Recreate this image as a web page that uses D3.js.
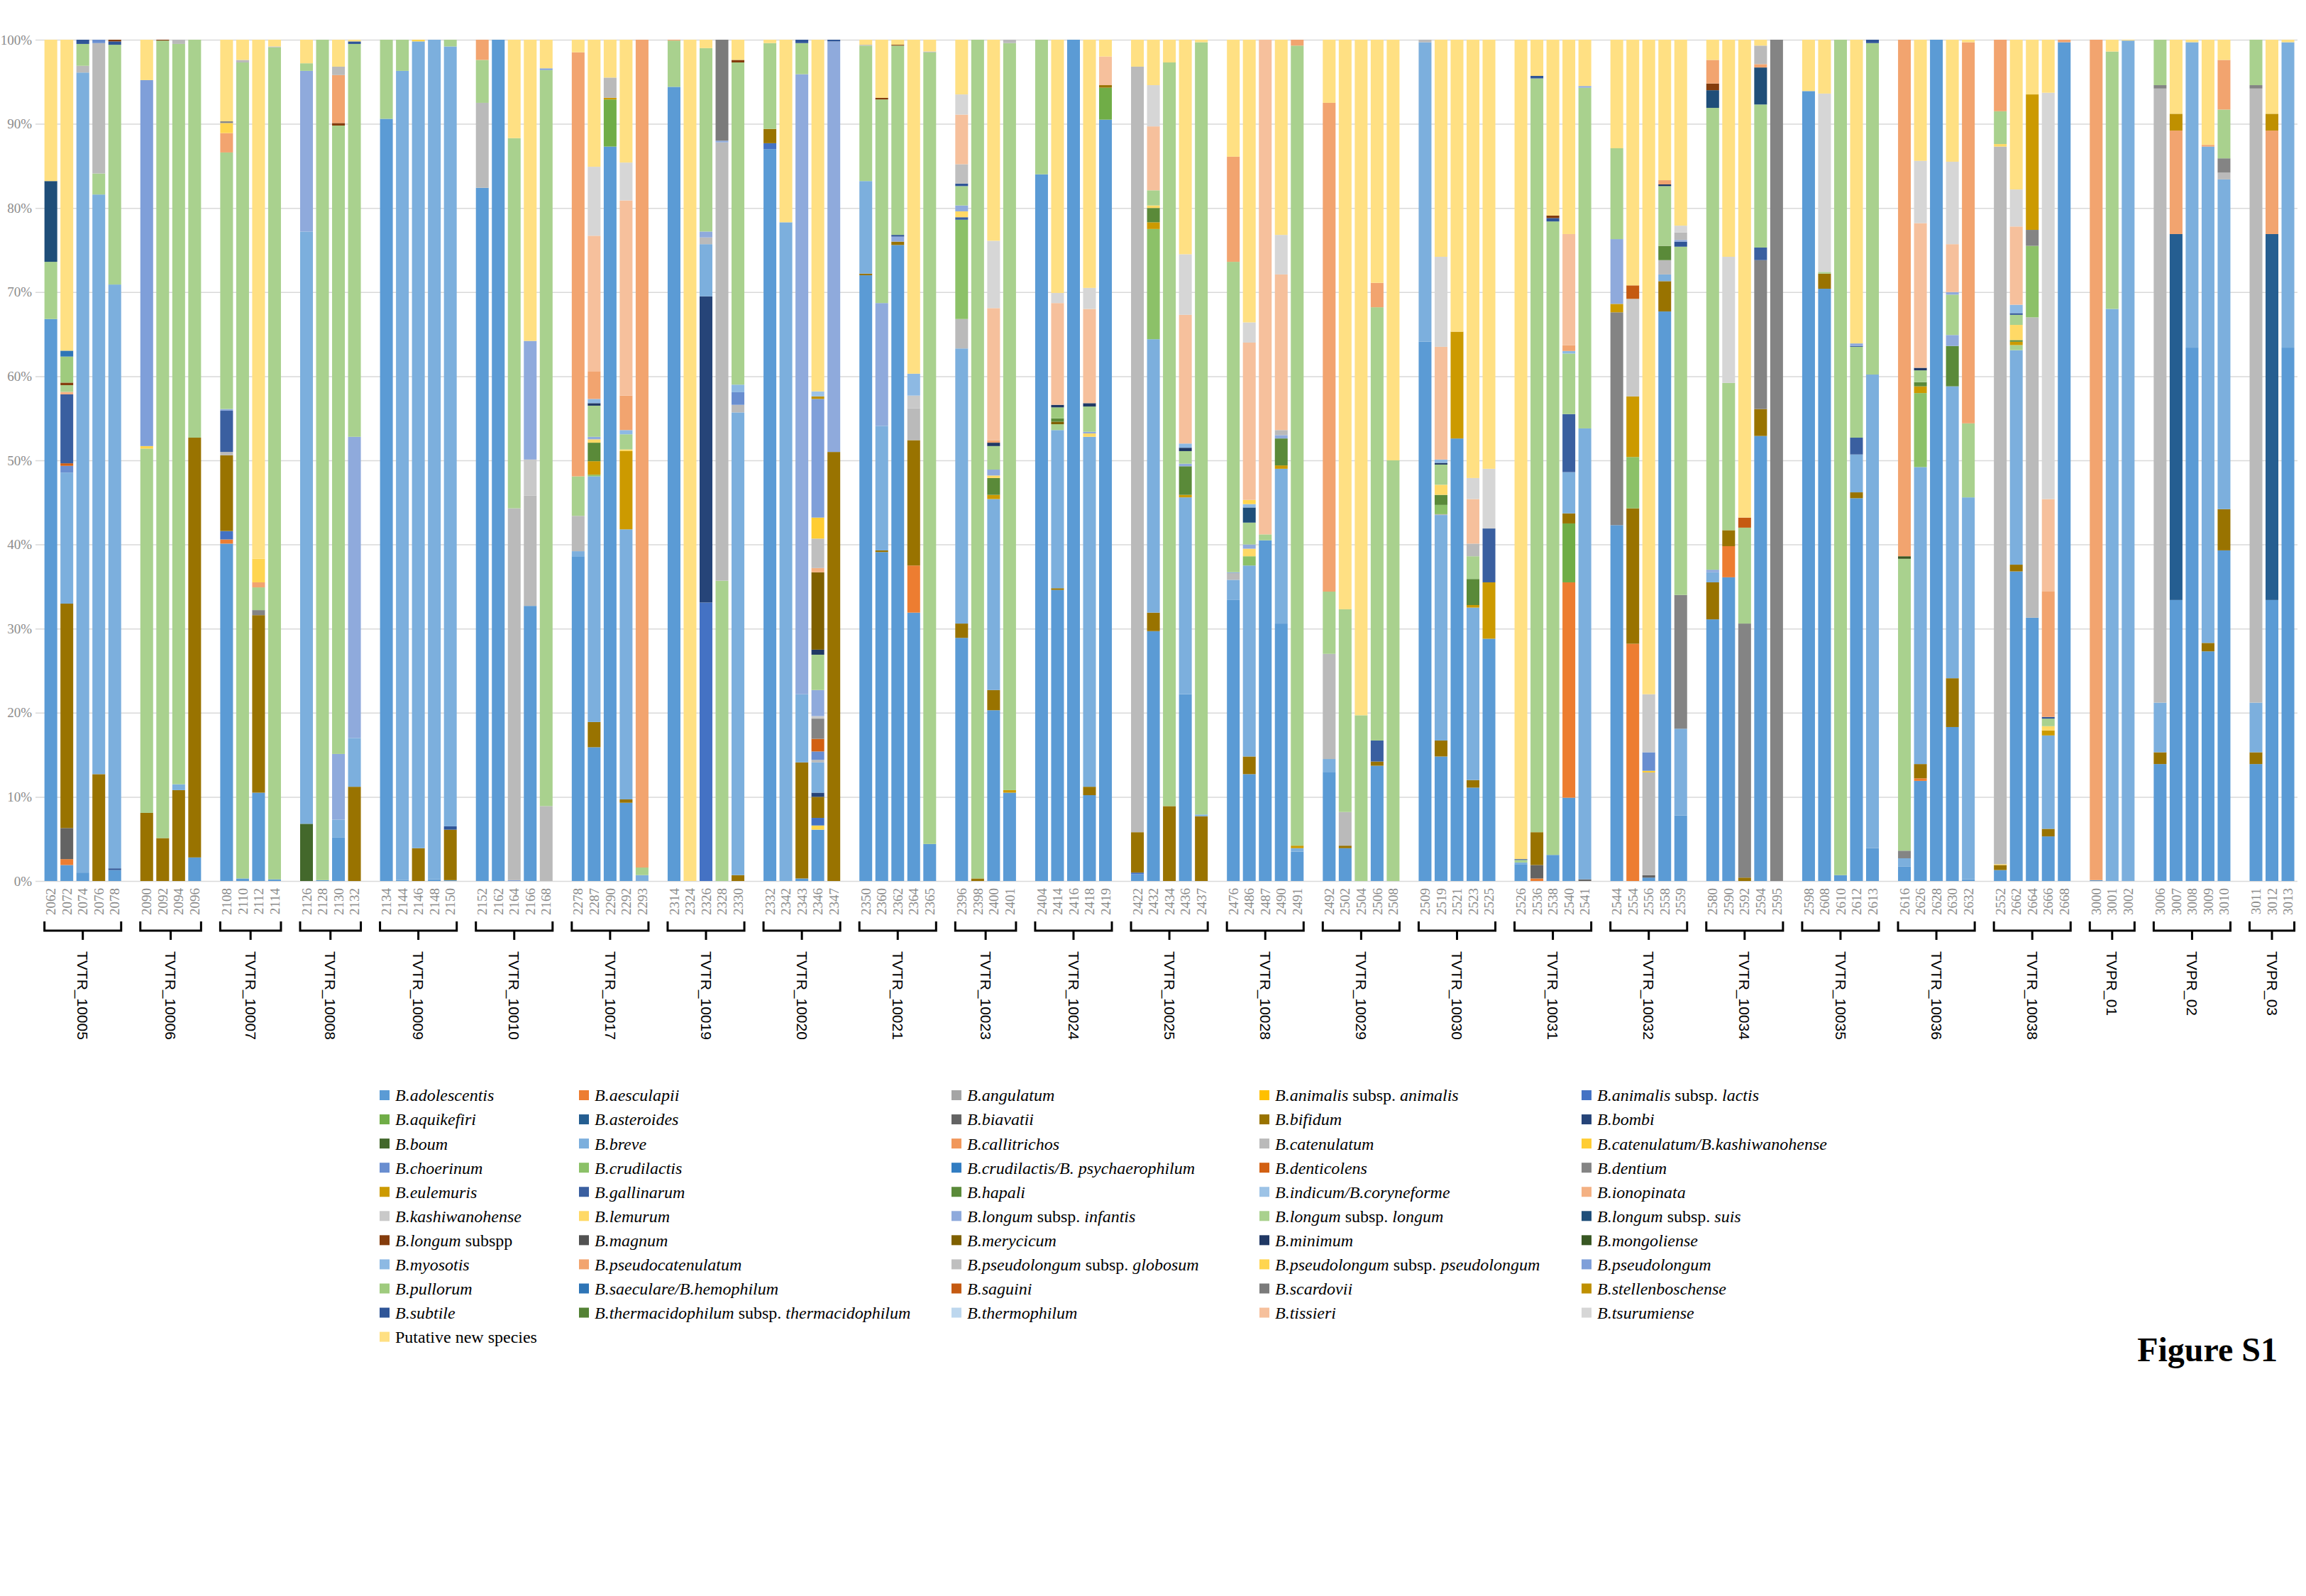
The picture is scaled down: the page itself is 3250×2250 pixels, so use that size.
<!DOCTYPE html>
<html>
<head>
<meta charset="utf-8">
<script src="https://cdn.jsdelivr.net/npm/d3@7"></script>
<style>
  body { margin: 0; background: #fff; }
  svg { display: block; }
</style>
</head>
<body>
<svg id="chart" width="3250" height="2250"></svg>
<script>
// groups (subjects) and the samples inside each one
var groupNames = ["TVTR_10005", "TVTR_10006", "TVTR_10007", "TVTR_10008", "TVTR_10009",
  "TVTR_10010", "TVTR_10017", "TVTR_10019", "TVTR_10020", "TVTR_10021", "TVTR_10023",
  "TVTR_10024", "TVTR_10025", "TVTR_10028", "TVTR_10029", "TVTR_10030", "TVTR_10031",
  "TVTR_10032", "TVTR_10034", "TVTR_10035", "TVTR_10036", "TVTR_10038", "TVPR_01",
  "TVPR_02", "TVPR_03"];

var sampleLabels = [
  ["2062", "2072", "2074", "2076", "2078"],
  ["2090", "2092", "2094", "2096"],
  ["2108", "2110", "2112", "2114"],
  ["2126", "2128", "2130", "2132"],
  ["2134", "2144", "2146", "2148", "2150"],
  ["2152", "2162", "2164", "2166", "2168"],
  ["2278", "2287", "2290", "2292", "2293"],
  ["2314", "2324", "2326", "2328", "2330"],
  ["2332", "2342", "2343", "2346", "2347"],
  ["2350", "2360", "2362", "2364", "2365"],
  ["2396", "2398", "2400", "2401"],
  ["2404", "2414", "2416", "2418", "2419"],
  ["2422", "2432", "2434", "2436", "2437"],
  ["2476", "2486", "2487", "2490", "2491"],
  ["2492", "2502", "2504", "2506", "2508"],
  ["2509", "2519", "2521", "2523", "2525"],
  ["2526", "2536", "2538", "2540", "2541"],
  ["2544", "2554", "2556", "2558", "2559"],
  ["2580", "2590", "2592", "2594", "2595"],
  ["2598", "2608", "2610", "2612", "2613"],
  ["2616", "2626", "2628", "2630", "2632"],
  ["2552", "2662", "2664", "2666", "2668"],
  ["3000", "3001", "3002"],
  ["3006", "3007", "3008", "3009", "3010"],
  ["3011", "3012", "3013"]
];

// species, in legend / stacking order
var speciesCodes = ["ado", "aes", "ang", "ani", "lac", "aqu", "ast", "bia", "bif", "bom",
  "bou", "bre", "cal", "cat", "cka", "cho", "cru", "cps", "den", "dnt",
  "eul", "gal", "hap", "ind", "ion", "kas", "lem", "inf", "lon", "sui",
  "lsp", "mag", "mer", "min", "mon", "myo", "pca", "glo", "pps", "pse",
  "pul", "sae", "sag", "sca", "ste", "sub", "the", "thm", "tis", "tsu", "put"];

var speciesNames = ["B.adolescentis", "B.aesculapii", "B.angulatum", "B.animalis subsp. animalis",
  "B.animalis subsp. lactis", "B.aquikefiri", "B.asteroides", "B.biavatii", "B.bifidum", "B.bombi",
  "B.boum", "B.breve", "B.callitrichos", "B.catenulatum", "B.catenulatum/B.kashiwanohense",
  "B.choerinum", "B.crudilactis", "B.crudilactis/B. psychaerophilum", "B.denticolens", "B.dentium",
  "B.eulemuris", "B.gallinarum", "B.hapali", "B.indicum/B.coryneforme", "B.ionopinata",
  "B.kashiwanohense", "B.lemurum", "B.longum subsp. infantis", "B.longum subsp. longum",
  "B.longum subsp. suis", "B.longum subspp", "B.magnum", "B.merycicum", "B.minimum",
  "B.mongoliense", "B.myosotis", "B.pseudocatenulatum", "B.pseudolongum subsp. globosum",
  "B.pseudolongum subsp. pseudolongum", "B.pseudolongum", "B.pullorum", "B.saeculare/B.hemophilum",
  "B.saguini", "B.scardovii", "B.stellenboschense", "B.subtile",
  "B.thermacidophilum subsp. thermacidophilum", "B.thermophilum", "B.tissieri", "B.tsurumiense",
  "Putative new species"];

var speciesColors = ["#5B9BD5", "#ED7D31", "#A5A5A5", "#FFC000", "#4472C4", "#70AD47", "#255E91",
  "#636363", "#997300", "#264478", "#43682B", "#7CAFDD", "#F1975A", "#BABABA", "#FFCD33",
  "#698ED0", "#8CC168", "#327DC2", "#D26012", "#848484", "#CC9A00", "#3A5FA0", "#5A8A39",
  "#9DC3E6", "#F4B183", "#C9C9C9", "#FFD966", "#8FAADC", "#A9D18E", "#1F4E79", "#843C0C",
  "#525252", "#7F6000", "#203864", "#385723", "#8DB9E3", "#F2A46F", "#BFBFBF", "#FFD54F",
  "#7F9FD9", "#9FCB7E", "#2E75B6", "#C55A11", "#7B7B7B", "#BF9000", "#2F5597", "#548235",
  "#BDD7EE", "#F6C09C", "#D6D6D6", "#FFE083"];

var yTicks = [0, 10, 20, 30, 40, 50, 60, 70, 80, 90, 100];

// relative abundance (%) per sample, bottom to top, as species/value pairs
var segments = [
  // TVTR_10005
  ["ado", 66.8, "lon", 6.8, "sui", 9.6, "put", 16.8],
  ["ado", 1.9, "aes", 0.7, "bia", 3.7, "bif", 26.7, "bre", 15.6, "cho", 0.8, "den", 0.3, "gal", 8.2, "ion", 0.3, "lon", 0.8, "lsp", 0.3, "pul", 3.1, "sae", 0.7, "put", 37.0],
  ["ado", 1.0, "bre", 95.1, "cat", 0.8, "lon", 2.6, "sub", 0.5],
  ["bif", 12.7, "bre", 68.9, "lon", 2.5, "cat", 15.5, "cho", 0.4],
  ["ado", 1.3, "sub", 0.2, "bre", 69.4, "lon", 28.5, "sub", 0.4, "lsp", 0.2],
  // TVTR_10006
  ["bif", 8.1, "lon", 43.3, "pps", 0.3, "pse", 43.5, "put", 4.8],
  ["bif", 5.1, "lon", 94.8, "lsp", 0.1],
  ["bif", 10.8, "bre", 0.7, "lon", 88.0, "cat", 0.5],
  ["ado", 2.8, "bif", 49.9, "lon", 47.3],
  // TVTR_10007
  ["ado", 40.1, "aes", 0.5, "lac", 1.0, "bif", 9.0, "cat", 0.4, "gal", 4.9, "inf", 0.2, "lon", 30.5, "pca", 2.3, "pps", 1.2, "dnt", 0.2, "put", 9.7],
  ["ado", 0.3, "lon", 97.0, "cat", 0.3, "put", 2.4],
  ["ado", 10.5, "bif", 21.1, "dnt", 0.6, "lon", 2.7, "pca", 0.6, "pps", 2.8, "put", 61.7],
  ["ado", 0.2, "lon", 98.9, "cat", 0.1, "put", 0.8],
  // TVTR_10008
  ["bou", 6.8, "bre", 70.4, "inf", 19.1, "lon", 0.9, "put", 2.8],
  ["ado", 0.1, "lon", 99.9],
  ["ado", 5.2, "bre", 2.1, "inf", 7.8, "lon", 74.7, "lsp", 0.3, "pca", 5.7, "cat", 1.0, "put", 3.2],
  ["bif", 11.2, "bre", 5.8, "inf", 35.8, "lon", 46.7, "sub", 0.3, "put", 0.2],
  // TVTR_10009
  ["ado", 90.6, "lon", 9.4],
  ["ado", 0.1, "bre", 96.2, "lon", 3.7],
  ["bif", 3.9, "bre", 95.9, "pps", 0.2],
  ["ado", 0.2, "bre", 99.8],
  ["ado", 0.1, "bif", 6.0, "sub", 0.4, "bre", 92.7, "lon", 0.8],
  // TVTR_10010
  ["ado", 82.4, "cat", 10.1, "lon", 5.1, "pca", 2.4],
  ["ado", 100],
  ["pse", 0.1, "cat", 44.2, "lon", 44.0, "put", 11.7],
  ["ado", 32.7, "cat", 13.1, "kas", 4.3, "inf", 14.1, "put", 35.8],
  ["cat", 8.9, "lon", 87.5, "pse", 0.2, "put", 3.4],
  // TVTR_10017
  ["ado", 38.6, "bre", 0.6, "cat", 4.2, "lon", 4.7, "pca", 50.4, "put", 1.5],
  ["ado", 15.9, "bif", 3.0, "bre", 29.2, "cru", 0.2, "eul", 1.6, "hap", 2.2, "lem", 0.4, "inf", 0.3, "lon", 3.7, "min", 0.3, "myo", 0.5, "pca", 3.3, "tis", 16.1, "tsu", 8.2, "put", 15.1],
  ["ado", 87.3, "aqu", 5.6, "eul", 0.2, "cat", 2.4, "put", 4.5],
  ["ado", 9.3, "bif", 0.4, "bre", 32.1, "eul", 9.3, "lem", 0.2, "lon", 1.8, "myo", 0.5, "pca", 4.1, "tis", 23.2, "tsu", 4.5, "put", 14.6],
  ["bre", 0.7, "lon", 0.9, "pca", 98.4],
  // TVTR_10019
  ["ado", 94.4, "lon", 5.5, "pca", 0.1],
  ["put", 100],
  ["lac", 33.1, "bom", 36.4, "bre", 6.2, "cat", 0.8, "inf", 0.7, "lon", 21.8, "put", 1.0],
  ["lon", 35.7, "cat", 52.1, "inf", 0.2, "sca", 12.0],
  ["bif", 0.7, "bre", 55.0, "cat", 0.9, "cho", 1.5, "myo", 0.9, "lon", 38.3, "lsp", 0.3, "put", 2.4],
  // TVTR_10020
  ["ado", 87.0, "lac", 0.7, "bif", 1.7, "lon", 10.2, "put", 0.4],
  ["bre", 78.3, "put", 21.7],
  ["ado", 0.3, "bif", 13.8, "bre", 8.1, "inf", 73.7, "lon", 3.7, "sub", 0.4],
  ["ado", 6.1, "pps", 0.5, "lac", 0.9, "bif", 2.5, "bom", 0.5, "bre", 3.6, "cat", 0.3, "cho", 1.0, "den", 1.5, "dnt", 2.4, "kas", 0.3, "inf", 3.1, "lon", 4.2, "min", 0.6, "mer", 9.2, "ion", 0.5, "glo", 3.5, "cka", 2.5, "pse", 14.1, "ste", 0.3, "ind", 0.6, "put", 41.8],
  ["bif", 51.0, "inf", 48.8, "sub", 0.2],
  // TVTR_10021
  ["ado", 72.0, "bif", 0.2, "bre", 11.0, "lon", 16.1, "cat", 0.1, "put", 0.6],
  ["ado", 39.1, "bif", 0.2, "bre", 14.8, "inf", 14.6, "lon", 24.2, "lsp", 0.2, "put", 6.9],
  ["ado", 75.6, "bif", 0.4, "inf", 0.6, "sub", 0.2, "lon", 22.5, "lsp", 0.1, "put", 0.6],
  ["ado", 31.9, "aes", 5.6, "bif", 14.9, "cat", 3.8, "kas", 1.5, "myo", 2.6, "put", 39.7],
  ["ado", 4.4, "lon", 94.1, "cat", 0.1, "put", 1.4],
  // TVTR_10023
  ["ado", 28.9, "bif", 1.7, "bre", 32.7, "cat", 3.5, "cru", 11.8, "gal", 0.3, "lem", 0.7, "inf", 0.7, "lon", 2.3, "sub", 0.3, "glo", 2.3, "tis", 5.9, "tsu", 2.4, "put", 6.5],
  ["bif", 0.3, "lon", 99.7],
  ["ado", 20.3, "bif", 2.4, "bre", 22.7, "eul", 0.5, "hap", 2.0, "lem", 0.3, "inf", 0.7, "lon", 2.8, "min", 0.4, "pca", 0.3, "tis", 15.7, "tsu", 8.0, "put", 23.9],
  ["ado", 10.5, "eul", 0.3, "lon", 88.8, "cat", 0.4],
  // TVTR_10024
  ["ado", 84.0, "lon", 16.0],
  ["ado", 34.6, "bif", 0.2, "bre", 18.8, "lon", 0.7, "mer", 0.3, "hap", 0.4, "pul", 1.3, "min", 0.3, "tis", 12.1, "tsu", 1.2, "put", 30.1],
  ["ado", 100],
  ["ado", 10.2, "bif", 1.0, "bre", 41.6, "lem", 0.4, "inf", 0.2, "lon", 3.0, "min", 0.4, "tis", 11.2, "tsu", 2.5, "put", 29.5],
  ["ado", 90.5, "aqu", 3.8, "bif", 0.3, "tis", 3.4, "put", 2.0],
  // TVTR_10025
  ["ado", 0.8, "lac", 0.2, "bif", 4.8, "cat", 91.0, "put", 3.2],
  ["ado", 29.7, "bif", 2.2, "bre", 32.5, "cru", 13.1, "eul", 0.8, "hap", 1.7, "lem", 0.3, "lon", 1.8, "tis", 7.6, "tsu", 4.9, "put", 5.4],
  ["bif", 8.9, "lon", 88.4, "put", 2.7],
  ["ado", 22.2, "bre", 23.4, "eul", 0.3, "hap", 3.4, "inf", 0.3, "lon", 1.5, "min", 0.4, "myo", 0.5, "tis", 15.3, "tsu", 7.2, "put", 25.5],
  ["bif", 7.7, "bre", 0.2, "lon", 91.8, "put", 0.3],
  // TVTR_10028
  ["ado", 33.4, "bre", 2.4, "cat", 0.8, "inf", 0.1, "lon", 36.9, "pca", 12.5, "put", 13.9],
  ["ado", 12.7, "bif", 2.1, "bre", 22.7, "cru", 1.1, "lem", 0.9, "inf", 0.5, "lon", 2.6, "sui", 1.8, "myo", 0.4, "pps", 0.5, "tis", 18.7, "tsu", 2.4, "put", 33.6],
  ["ado", 40.5, "lon", 0.7, "tis", 58.8],
  ["ado", 30.6, "bre", 18.4, "eul", 0.4, "hap", 3.2, "inf", 0.4, "cat", 0.6, "tis", 18.5, "tsu", 4.7, "put", 23.2],
  ["ado", 3.5, "bre", 0.4, "eul", 0.3, "lon", 95.1, "pca", 0.7],
  // TVTR_10029
  ["ado", 12.9, "bre", 1.6, "cat", 12.5, "lon", 7.4, "pca", 58.1, "put", 7.5],
  ["ado", 3.9, "bif", 0.3, "cat", 4.0, "lon", 24.1, "put", 67.7],
  ["lon", 19.7, "put", 80.3],
  ["ado", 13.7, "bif", 0.5, "gal", 2.5, "lon", 51.5, "pca", 2.9, "put", 28.9],
  ["lon", 50.0, "put", 50.0],
  // TVTR_10030
  ["ado", 64.1, "bre", 35.6, "cat", 0.3],
  ["ado", 14.8, "bif", 1.9, "bre", 26.8, "cat", 0.1, "cru", 1.1, "hap", 1.2, "lem", 1.2, "lon", 2.4, "min", 0.2, "myo", 0.4, "tis", 13.4, "tsu", 10.7, "put", 25.8],
  ["ado", 52.6, "eul", 12.7, "put", 34.7],
  ["ado", 11.1, "bif", 0.9, "bre", 20.5, "eul", 0.3, "hap", 3.1, "lon", 2.7, "cat", 1.5, "tis", 5.3, "tsu", 2.5, "put", 52.1],
  ["ado", 28.8, "eul", 6.7, "gal", 6.4, "tsu", 7.1, "put", 51.0],
  // TVTR_10031
  ["ado", 2.0, "bre", 0.2, "lon", 0.3, "sub", 0.1, "put", 97.4],
  ["aes", 0.3, "bia", 1.6, "bif", 3.9, "lon", 89.6, "sub", 0.3, "put", 4.3],
  ["ado", 3.1, "lon", 75.3, "sub", 0.4, "lsp", 0.3, "put", 20.9],
  ["ado", 9.9, "aes", 25.6, "aqu", 7.0, "bif", 1.2, "bre", 4.9, "gal", 6.9, "lon", 7.2, "myo", 0.3, "pca", 0.7, "tis", 13.2, "put", 23.1],
  ["bia", 0.2, "bre", 53.6, "lon", 40.5, "inf", 0.2, "put", 5.5],
  // TVTR_10032
  ["ado", 42.3, "dnt", 25.3, "eul", 1.0, "inf", 7.7, "lon", 10.8, "put", 12.9],
  ["aes", 28.2, "bif", 16.1, "cru", 6.1, "eul", 7.2, "kas", 11.6, "sag", 1.6, "put", 29.2],
  ["ado", 0.4, "bia", 0.3, "cat", 12.2, "cka", 0.2, "cho", 2.2, "kas", 6.9, "put", 77.8],
  ["ado", 67.7, "bif", 3.6, "bre", 0.8, "cat", 1.7, "hap", 1.7, "lon", 7.1, "min", 0.2, "pca", 0.5, "put", 16.7],
  ["ado", 7.8, "bre", 10.3, "dnt", 15.9, "lon", 41.4, "sub", 0.6, "inf", 0.2, "cat", 0.9, "tsu", 0.8, "put", 22.1],
  // TVTR_10034
  ["ado", 31.1, "bif", 4.4, "bre", 1.2, "inf", 0.3, "lon", 54.9, "sui", 2.1, "lsp", 0.8, "pca", 2.8, "put", 2.4],
  ["ado", 36.1, "aes", 3.7, "bif", 1.9, "lon", 17.5, "tsu", 15.0, "put", 25.8],
  ["bif", 0.4, "dnt", 30.2, "lon", 11.4, "sag", 1.2, "put", 56.8],
  ["ado", 52.9, "bif", 3.2, "dnt", 17.7, "gal", 1.5, "lon", 17.0, "sui", 4.4, "pca", 0.4, "cat", 2.2, "put", 0.7],
  ["dnt", 100],
  // TVTR_10035
  ["ado", 93.9, "put", 6.1],
  ["ado", 70.4, "bif", 1.8, "lon", 0.2, "tsu", 21.2, "put", 6.4],
  ["ado", 0.7, "lon", 99.3],
  ["ado", 45.5, "bif", 0.7, "bre", 4.5, "gal", 2.0, "lon", 10.8, "sub", 0.1, "inf", 0.3, "put", 36.1],
  ["ado", 3.9, "bre", 56.3, "lon", 39.4, "sub", 0.4],
  // TVTR_10036
  ["ado", 1.7, "bre", 1.0, "dnt", 0.9, "lon", 34.7, "mon", 0.3, "pca", 61.4],
  ["ado", 11.9, "aes", 0.3, "bif", 1.7, "bre", 35.3, "cru", 8.8, "eul", 0.8, "hap", 0.5, "lon", 1.4, "min", 0.3, "tis", 17.2, "tsu", 7.4, "put", 14.4],
  ["ado", 100],
  ["ado", 18.3, "bif", 5.8, "bre", 34.7, "hap", 4.8, "inf", 1.3, "lon", 4.8, "inf", 0.3, "tis", 5.7, "tsu", 9.8, "put", 14.5],
  ["ado", 0.2, "bre", 45.4, "lon", 8.8, "pca", 45.3, "put", 0.3],
  // TVTR_10038
  ["ado", 1.3, "bif", 0.6, "lem", 0.1, "cat", 85.3, "lem", 0.3, "lon", 3.9, "pca", 8.5],
  ["ado", 36.8, "bif", 0.8, "bre", 25.5, "lon", 0.6, "eul", 0.4, "hap", 0.2, "lem", 1.8, "lon", 1.2, "sub", 0.2, "myo", 1.0, "tis", 9.3, "tsu", 4.4, "put", 17.8],
  ["ado", 31.3, "cat", 35.7, "cru", 8.5, "dnt", 1.9, "eul", 16.1, "put", 6.5],
  ["ado", 5.3, "bif", 0.9, "bre", 11.1, "eul", 0.6, "lem", 0.5, "lon", 0.9, "sub", 0.2, "pca", 14.9, "tis", 11.0, "tsu", 48.3, "put", 6.3],
  ["ado", 99.7, "pca", 0.3],
  // TVPR_01
  ["ado", 0.1, "pca", 99.9],
  ["bre", 68.0, "lon", 30.6, "put", 1.4],
  ["bre", 99.9, "put", 0.1],
  // TVPR_02
  ["ado", 13.9, "bif", 1.4, "bre", 5.9, "cat", 73.0, "dnt", 0.4, "lon", 5.4],
  ["ado", 33.4, "ast", 43.5, "pca", 12.3, "ste", 2.0, "put", 8.8],
  ["ado", 63.4, "bre", 36.3, "put", 0.3],
  ["ado", 27.3, "bif", 1.0, "bre", 59.0, "pca", 0.2, "put", 12.5],
  ["ado", 39.3, "bif", 4.9, "bre", 39.2, "cat", 0.8, "dnt", 1.7, "lon", 5.8, "pca", 5.9, "put", 2.4],
  // TVPR_03
  ["ado", 13.9, "bif", 1.4, "bre", 5.9, "cat", 73.0, "dnt", 0.4, "lon", 5.4],
  ["ado", 33.4, "ast", 43.5, "pca", 12.3, "ste", 2.0, "put", 8.8],
  ["ado", 63.4, "bre", 36.3, "put", 0.3]
];

var svg = d3.select("#chart");
svg.append("rect").attr("width", 3250).attr("height", 2250).attr("fill", "#fff");

var color = d3.scaleOrdinal().domain(speciesCodes).range(speciesColors);

// one slot per sample, plus an empty slot between groups
var slots = [], samples = [];
sampleLabels.forEach(function(labels, gi) {
  if (gi > 0) slots.push("gap" + gi);
  labels.forEach(function(l) {
    slots.push(l);
    samples.push({label: l, group: gi});
  });
});
samples.forEach(function(s, i) { s.segs = segments[i]; });

var x = d3.scaleBand()
    .domain(slots)
    .range([60.4, 3235.8])
    .paddingInner(0.2)
    .paddingOuter(0.1);

var y = d3.scaleLinear()
    .domain([0, 100])
    .range([1242, 56]);

// gridlines + y labels
svg.append("g")
  .selectAll("line")
  .data(yTicks)
  .enter().append("line")
    .attr("x1", 50)
    .attr("x2", 3238)
    .attr("y1", function(d) { return y(d) + 0.5; })
    .attr("y2", function(d) { return y(d) + 0.5; })
    .attr("stroke", "#d9d9d9")
    .attr("stroke-width", 1.5);

svg.append("g")
  .selectAll("text")
  .data(yTicks)
  .enter().append("text")
    .attr("x", 45)
    .attr("y", function(d) { return y(d); })
    .attr("dy", "0.35em")
    .attr("text-anchor", "end")
    .attr("font-family", "Liberation Serif, Times New Roman, serif")
    .attr("font-size", 19)
    .attr("fill", "#8c8c8c")
    .text(function(d) { return d + "%"; });

// stacked bars (100% stacked: each sample normalised to its total)
function stackSample(s) {
  var pairs = [];
  for (var i = 0; i < s.segs.length; i += 2) pairs.push({key: s.segs[i], value: s.segs[i + 1]});
  var total = d3.sum(pairs, function(p) { return p.value; });
  var acc = 0;
  pairs.forEach(function(p) {
    p.y0 = acc / total * 100;
    acc += p.value;
    p.y1 = acc / total * 100;
    p.label = s.label;
  });
  return pairs;
}

svg.append("g")
  .selectAll("g")
  .data(samples)
  .enter().append("g")
  .selectAll("rect")
  .data(stackSample)
  .enter().append("rect")
    .attr("x", function(d) { return x(d.label); })
    .attr("width", x.bandwidth())
    .attr("y", function(d) { return y(d.y1); })
    .attr("height", function(d) { return y(d.y0) - y(d.y1); })
    .attr("fill", function(d) { return color(d.key); });

// sample labels
svg.append("g")
  .selectAll("text")
  .data(samples)
  .enter().append("text")
    .attr("transform", function(d) {
      return "translate(" + (x(d.label) + x.bandwidth() / 2) + ",1252) rotate(-90)";
    })
    .attr("dy", "0.35em")
    .attr("text-anchor", "end")
    .attr("font-family", "Liberation Serif, Times New Roman, serif")
    .attr("font-size", 19)
    .attr("fill", "#8a8a8a")
    .text(function(d) { return d.label; });

// group brackets and names
var groups = sampleLabels.map(function(labels, gi) {
  var x0 = x(labels[0]), x1 = x(labels[labels.length - 1]) + x.bandwidth();
  return {name: groupNames[gi], x0: x0, x1: x1, cx: (x0 + x1) / 2};
});

var gg = svg.append("g").selectAll("g").data(groups).enter().append("g");

gg.append("path")
    .attr("d", function(d) {
      return "M" + d.x0 + ",1299V1312H" + d.x1 + "V1299M" + d.cx + ",1312V1325";
    })
    .attr("fill", "none")
    .attr("stroke", "#000")
    .attr("stroke-width", 3);

gg.append("text")
    .attr("transform", function(d) { return "translate(" + d.cx + ",1341) rotate(90)"; })
    .attr("dy", "0.35em")
    .attr("text-anchor", "start")
    .attr("font-family", "Liberation Sans, Arial, sans-serif")
    .attr("font-size", 21)
    .attr("fill", "#000")
    .text(function(d) { return d.name; });

// legend, row-major in 5 columns
var legendCols = [535, 816, 1341, 1775, 2229];
var legend = svg.append("g")
  .selectAll("g")
  .data(speciesNames)
  .enter().append("g")
    .attr("transform", function(d, i) {
      return "translate(" + legendCols[i % 5] + "," + (1544 + Math.floor(i / 5) * 34.06) + ")";
    });

legend.append("rect")
    .attr("x", 0)
    .attr("y", -7)
    .attr("width", 14)
    .attr("height", 14)
    .attr("fill", function(d, i) { return speciesColors[i]; });

legend.append("text")
    .attr("x", 22)
    .attr("dy", "0.35em")
    .attr("font-family", "Liberation Serif, Times New Roman, serif")
    .attr("font-size", 24)
    .attr("fill", "#000")
    .each(function(d) {
      var t = d3.select(this);
      if (d.indexOf("B.") !== 0) { t.append("tspan").text(d); return; }
      var m = d.match(/^(\S+)( subspp?\.?)( (.*))?$/);
      if (!m) { t.append("tspan").attr("font-style", "italic").text(d); return; }
      t.append("tspan").attr("font-style", "italic").text(m[1]);
      t.append("tspan").text(m[2] + (m[4] ? " " : ""));
      if (m[4]) t.append("tspan").attr("font-style", "italic").text(m[4]);
    });

svg.append("text")
    .attr("x", 3210)
    .attr("y", 1919)
    .attr("text-anchor", "end")
    .attr("font-family", "Liberation Serif, Times New Roman, serif")
    .attr("font-weight", "bold")
    .attr("font-size", 48)
    .attr("fill", "#000")
    .text("Figure S1");
</script>
</body>
</html>
